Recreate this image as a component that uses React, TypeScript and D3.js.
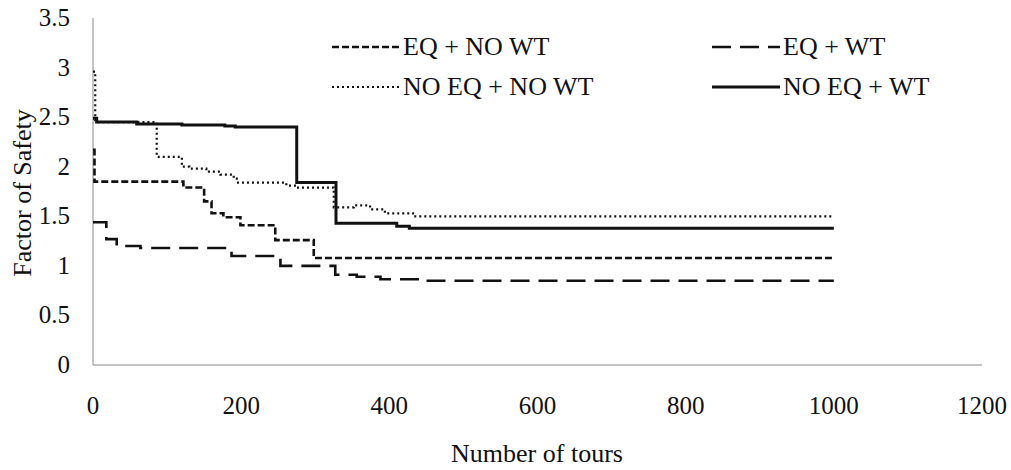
import React from "react";
import * as d3 from "d3";

const xTicks = [0, 200, 400, 600, 800, 1000, 1200];
const yTicks = [0, 0.5, 1, 1.5, 2, 2.5, 3, 3.5];

const eqNoWtTours = [0, 2, 122, 150, 160, 176, 199, 246, 298, 1000];
const eqNoWtValues = [2.17, 1.85, 1.79, 1.65, 1.53, 1.49, 1.41, 1.26, 1.08, 1.08];

const eqWtTours = [0, 18, 32, 64, 187, 253, 327, 356, 388, 446, 1000];
const eqWtValues = [1.44, 1.27, 1.2, 1.18, 1.1, 1.0, 0.91, 0.89, 0.865, 0.85, 0.85];

const noEqNoWtTours = [0, 3, 86, 120, 130, 153, 172, 190, 194, 261, 275, 325, 352, 374, 394, 432, 1000];
const noEqNoWtValues = [2.96, 2.45, 2.1, 2.0, 1.98, 1.95, 1.92, 1.88, 1.84, 1.81, 1.79, 1.59, 1.61, 1.57, 1.53, 1.5, 1.5];

const noEqWtTours = [0, 5, 59, 120, 178, 192, 275, 328, 410, 427, 1000];
const noEqWtValues = [2.49, 2.45, 2.43, 2.42, 2.41, 2.4, 1.84, 1.43, 1.4, 1.38, 1.38];

const seriesNames = ["EQ + NO WT", "EQ + WT", "NO EQ + NO WT", "NO EQ + WT"];

const FONT = "'Liberation Serif', 'Times New Roman', serif";

export default function App() {
  const W = 1011;
  const H = 470;
  const x = d3.scaleLinear().domain([0, 1200]).range([93, 982]);
  const y = d3.scaleLinear().domain([0, 3.5]).range([365, 18]);

  const styles = [
    { dash: "7 3", width: 2.6 },
    { dash: "19 9", width: 2.6 },
    { dash: "2 3", width: 2.2 },
    { dash: "", width: 3 },
  ];
  const data = [
    [eqNoWtTours, eqNoWtValues],
    [eqWtTours, eqWtValues],
    [noEqNoWtTours, noEqNoWtValues],
    [noEqWtTours, noEqWtValues],
  ];

  const line = d3
    .line<[number, number]>()
    .x((d) => x(d[0]))
    .y((d) => y(d[1]))
    .curve(d3.curveStepAfter);

  const legendPos = [
    { lx: 332, ly: 47 },
    { lx: 712, ly: 47 },
    { lx: 332, ly: 87 },
    { lx: 712, ly: 87 },
  ];

  return (
    <svg
      width={W}
      height={H}
      style={{ position: "absolute", left: 0, top: 0, background: "#fff" }}
      fontFamily={FONT}
    >
      <line x1={x(0)} x2={x(0)} y1={y(3.5)} y2={y(0)} stroke="#8a8a8a" strokeWidth={1} />
      <line x1={x(0)} x2={x(1200)} y1={y(0)} y2={y(0)} stroke="#8a8a8a" strokeWidth={1} />

      {yTicks.map((t) => (
        <text key={t} x={70} y={y(t) + 8} textAnchor="end" fontSize={25} fill="#111">
          {String(t)}
        </text>
      ))}
      {xTicks.map((t) => (
        <text key={t} x={x(t)} y={414} textAnchor="middle" fontSize={25} fill="#111">
          {String(t)}
        </text>
      ))}
      <text x={537} y={462} textAnchor="middle" fontSize={26} fill="#111">
        Number of tours
      </text>
      <text
        transform={`translate(31,193) rotate(-90)`}
        textAnchor="middle"
        fontSize={26}
        fill="#111"
      >
        Factor of Safety
      </text>

      {data.map(([tours, vals], i) => {
        const pts = tours.map((t, k) => [t, vals[k]] as [number, number]);
        return (
          <path
            key={i}
            d={line(pts) || ""}
            fill="none"
            stroke="#111"
            strokeWidth={styles[i].width}
            strokeDasharray={styles[i].dash || undefined}
          />
        );
      })}

      {seriesNames.map((name, i) => {
        const p = legendPos[i];
        return (
          <g key={name}>
            <line
              x1={p.lx}
              x2={p.lx + 68}
              y1={p.ly}
              y2={p.ly}
              stroke="#111"
              strokeWidth={styles[i].width}
              strokeDasharray={styles[i].dash || undefined}
            />
            <text x={p.lx + 71} y={p.ly + 8} fontSize={26} fill="#111">
              {name}
            </text>
          </g>
        );
      })}
    </svg>
  );
}
